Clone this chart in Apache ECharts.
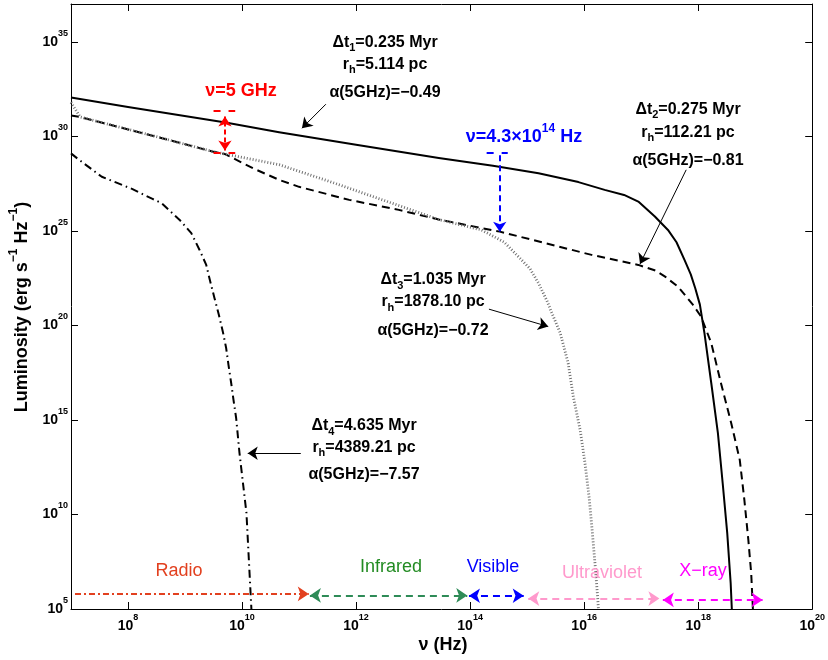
<!DOCTYPE html>
<html>
<head>
<meta charset="utf-8">
<script src="https://cdn.jsdelivr.net/npm/echarts@6/dist/echarts.min.js"></script>
<style>html,body{margin:0;padding:0;background:#fff}#c{width:828px;height:660px}</style>
</head>
<body>
<div id="c"></div>
<script>
// All values are log10 exponents (nu in Hz, L in erg s^-1 Hz^-1)
const xTickExps = [8, 10, 12, 14, 16, 18, 20];
const yTickExps = [5, 10, 15, 20, 25, 30, 35];

// Δt1 = 0.235 Myr (solid)
const t1LogNu = [7.0, 8.0, 9.71, 10.65, 12.0, 13.45, 14.4, 15.2, 15.9, 16.36, 16.7, 16.95, 17.24, 17.47, 17.62, 17.76, 17.87, 17.95, 18.03, 18.11, 18.23, 18.346, 18.43, 18.51, 18.57, 18.59];
const t1LogL  = [32.05, 31.55, 30.73, 30.22, 29.55, 28.85, 28.45, 28.05, 27.58, 27.17, 26.9, 26.55, 25.76, 25.05, 24.4, 23.47, 22.7, 21.95, 21.1, 19.59, 16.94, 14.30, 11.65, 9.0, 6.36, 5.0];

// Δt2 = 0.275 Myr (dashed)
const t2LogNu = [7.0, 7.16, 8.5, 9.48, 9.71, 10.2, 10.65, 11.0, 11.88, 12.75, 13.45, 14.52, 15.32, 16.13, 16.95, 17.25, 17.42, 17.65, 17.91, 18.05, 18.23, 18.40, 18.58, 18.73, 18.81, 18.88, 18.93, 18.96];
const t2LogL  = [31.1, 31.02, 29.98, 29.2, 29.05, 28.3, 27.7, 27.33, 26.64, 26.11, 25.6, 24.96, 24.35, 23.73, 23.2, 22.9, 22.58, 22.04, 21.08, 20.47, 19.06, 16.94, 14.83, 12.88, 10.77, 8.65, 6.89, 5.0];

// Δt3 = 1.035 Myr (dotted)
const t3LogNu = [7.0, 7.16, 8.5, 9.48, 10.65, 11.5, 12.5, 13.45, 14.2, 14.6, 14.9, 15.05, 15.2, 15.34, 15.46, 15.58, 15.72, 15.81, 15.93, 16.015, 16.086, 16.14, 16.19, 16.236, 16.25];
const t3LogL  = [31.8, 31.02, 29.98, 29.2, 28.5, 27.65, 26.6, 25.6, 25.05, 24.4, 23.47, 23.0, 22.23, 21.35, 20.47, 19.6, 18.0, 16.23, 14.47, 12.71, 10.94, 9.18, 7.42, 5.65, 5.0];

// Δt4 = 4.635 Myr (dash-dot)
const t4LogNu = [7.0, 7.12, 7.54, 8.07, 8.43, 8.586, 8.906, 9.11, 9.255, 9.372, 9.442, 9.517, 9.593, 9.663, 9.722, 9.762, 9.81, 9.85, 9.897, 9.955, 10.077, 10.164];
const t4LogL  = [29.1, 28.81, 27.86, 27.22, 26.69, 26.47, 25.58, 24.88, 23.99, 23.2, 22.32, 21.44, 20.56, 19.67, 18.79, 17.91, 16.94, 16.06, 15.09, 13.25, 10.08, 5.0];

// Spectral bands along the bottom
const bandNames  = ['Radio', 'Infrared', 'Visible', 'Ultraviolet', 'X\u2212ray'];
const bandFromNu = [7.07, 11.19, 13.98, 15.02, 17.38];
const bandToNu   = [11.17, 13.95, 14.94, 17.32, 19.13];
const bandLogL   = [5.8, 5.72, 5.7, 5.55, 5.48];

// Marked frequencies
const radioNu = 9.70;      // 5 GHz
const opticalNu = 14.52;   // 4.3e14 Hz marker as drawn

const FF = '"Liberation Sans", Arial, Helvetica, sans-serif';
const zip = (a, b) => a.map((v, i) => [v, b[i]]);

const tickRich = {
  b: {fontSize: 14, fontWeight: 'bold', fontFamily: FF, lineHeight: 26, color: '#000'},
  s: {fontSize: 9, fontWeight: 'bold', fontFamily: FF, lineHeight: 10, verticalAlign: 'top', color: '#000'}
};
const supFmt = v => '{b|10}{s|' + v + '}';

function axisX(pos, showLabel) {
  return {
    type: 'value', min: 7, max: 20, position: pos,
    axisLine: {show: true, onZero: false, lineStyle: {color: '#000', width: 1}},
    axisTick: {show: true, inside: true, length: 7, customValues: xTickExps, lineStyle: {color: '#000', width: 1}},
    axisLabel: showLabel ? {show: true, customValues: xTickExps, formatter: supFmt, rich: tickRich, margin: 4} : {show: false},
    splitLine: {show: false}
  };
}
function axisY(pos, showLabel) {
  return {
    type: 'value', min: 5, max: 37, position: pos,
    axisLine: {show: true, onZero: false, lineStyle: {color: '#000', width: 1}},
    axisTick: {show: true, inside: true, length: 7, customValues: yTickExps, lineStyle: {color: '#000', width: 1}},
    axisLabel: showLabel ? {show: true, customValues: yTickExps, formatter: supFmt, rich: tickRich, margin: 3} : {show: false},
    splitLine: {show: false}
  };
}

function curve(nu, L, style) {
  return {
    type: 'line', data: zip(nu, L), showSymbol: false, symbol: 'none',
    smooth: false, clip: true, silent: true, z: 3,
    lineStyle: Object.assign({cap: 'butt', join: 'round'}, style)
  };
}

function arrows(segs, color, width, dash, sym, size) {
  return {
    type: 'lines', coordinateSystem: 'cartesian2d', xAxisIndex: 0, yAxisIndex: 0,
    symbol: sym, symbolSize: size, silent: true, z: 6, animation: false,
    lineStyle: {color: color, width: width, type: dash, opacity: 1, curveness: 0},
    data: segs.map(s => ({coords: [[s[0], s[1]], [s[2], s[3]]]}))
  };
}

const bandColors = ['#e2401f', '#2e8b57', '#0000ff', '#ff99cc', '#ff00ff'];
const bandTextColors = ['#e2401f', '#228b22', '#0000ff', '#ff99cc', '#ff00ff'];
const bandSeries = bandNames.map((n, i) => arrows(
  [[bandFromNu[i], bandLogL[i], bandToNu[i], bandLogL[i]]],
  bandColors[i], 2, i === 0 ? [6, 3, 2, 3] : [7, 5],
  i === 0 ? ['none', 'arrow'] : ['arrow', 'arrow'], 11));

const annotSeries = arrows([
  [11.47, 31.70, 11.05, 30.43],
  [17.79, 28.23, 16.98, 23.25],
  [14.33, 20.86, 15.37, 19.94],
  [11.03, 13.24, 10.10, 13.24]
], '#000', 1, 'solid', ['none', 'arrow'], 10);

const redSeries = [
  arrows([[radioNu, 29.25, radioNu, 31.05]], '#ff0000', 2, [5, 3], ['arrow', 'arrow'], 10),
  arrows([[radioNu - 0.2, 31.35, radioNu + 0.18, 31.35], [radioNu - 0.2, 29.14, radioNu + 0.18, 29.14]], '#ff0000', 2, [7, 8], ['none', 'none'], 0)
];
const blueSeries = [
  arrows([[opticalNu, 29.0, opticalNu, 24.96]], '#0000ff', 2, [6, 4], ['none', 'arrow'], 10),
  arrows([[opticalNu - 0.23, 29.11, opticalNu + 0.14, 29.11]], '#0000ff', 2, [7, 8], ['none', 'none'], 0)
];

const annotRich = {
  n: {fontSize: 16, fontWeight: 'bold', fontFamily: FF, lineHeight: 22, fill: '#000'},
  u: {fontSize: 11, fontWeight: 'bold', fontFamily: FF, lineHeight: 10, verticalAlign: 'bottom', fill: '#000'}
};
function tx(x, y, text, rich, extra) {
  return Object.assign({
    type: 'text', x: x, y: y, z: 10, silent: true,
    style: {text: text, rich: rich, align: 'center', verticalAlign: 'middle', fontFamily: FF}
  }, extra || {});
}
function block(x, ys, idx, dt, rh, al) {
  return [
    tx(x, ys[0], '{n|\u0394t}{u|' + idx + '}{n|=' + dt + ' Myr}', annotRich),
    tx(x, ys[1], '{n|r}{u|h}{n|=' + rh + ' pc}', annotRich),
    tx(x, ys[2], '{n|\u03b1(5GHz)=\u2212' + al + '}', annotRich)
  ];
}

const graphics = [].concat(
  block(385, [42.3, 64.2, 92.5], 1, '0.235', '5.114', '0.49'),
  block(688, [109.2, 132.5, 160.8], 2, '0.275', '112.21', '0.81'),
  block(433, [280, 302, 331], 3, '1.035', '1878.10', '0.72'),
  block(364, [426, 447.5, 475], 4, '4.635', '4389.21', '7.57'),
  [
    tx(241, 91.2, '{b|\u03bd=5 GHz}', {b: {fontSize: 18, fontWeight: 'bold', fontFamily: FF, fill: '#ff0000', lineHeight: 24}}),
    tx(524, 137.5, '{b|\u03bd=4.3\u00d710}{s|14}{b| Hz}', {
      b: {fontSize: 18, fontWeight: 'bold', fontFamily: FF, fill: '#0000ff', lineHeight: 30},
      s: {fontSize: 12, fontWeight: 'bold', fontFamily: FF, fill: '#0000ff', lineHeight: 12, verticalAlign: 'top'}
    }),
    tx(443, 645, '{n|\u03bd (Hz)}', {n: {fontSize: 18, fontWeight: 'bold', fontFamily: FF, fill: '#000', lineHeight: 24}}),
    tx(22, 307, '{n|Luminosity (erg s}{p|\u22121}{n| Hz}{p|\u22121}{n|)}', {
      n: {fontSize: 18, fontWeight: 'bold', fontFamily: FF, fill: '#000', lineHeight: 28},
      p: {fontSize: 12, fontWeight: 'bold', fontFamily: FF, fill: '#000', lineHeight: 12, verticalAlign: 'top'}
    }, {rotation: Math.PI / 2})
  ]
);
const bandLabelPos = [[179, 571], [391, 567], [493, 567], [602, 573], [703, 571]];
bandNames.forEach((n, i) => {
  graphics.push(tx(bandLabelPos[i][0], bandLabelPos[i][1], '{t|' + n + '}',
    {t: {fontSize: 18, fontFamily: FF, fill: bandTextColors[i], lineHeight: 22}}));
});

const chart = echarts.init(document.getElementById('c'));
chart.setOption({
  animation: false,
  backgroundColor: '#fff',
  grid: {left: 71, right: 13, top: 4, bottom: 51},
  xAxis: [axisX('bottom', true), axisX('top', false)],
  yAxis: [axisY('left', true), axisY('right', false)],
  series: [
    curve(t1LogNu, t1LogL, {color: '#000', width: 2, type: 'solid'}),
    curve(t2LogNu, t2LogL, {color: '#000', width: 2, type: [8, 5]}),
    curve(t3LogNu, t3LogL, {color: '#707070', width: 2.8, type: [1, 2]}),
    curve(t4LogNu, t4LogL, {color: '#000', width: 2, type: [8, 4, 1.5, 4]}),
    annotSeries
  ].concat(redSeries, blueSeries, bandSeries),
  graphic: graphics
});
</script>
</body>
</html>
